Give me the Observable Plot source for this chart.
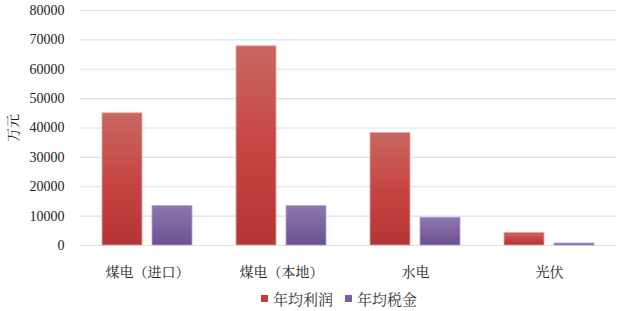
<!DOCTYPE html>
<html><head><meta charset="utf-8">
<script src="https://cdn.jsdelivr.net/npm/d3@7"></script>
<script src="https://cdn.jsdelivr.net/npm/@observablehq/plot@0.6"></script>
<style>
html,body{margin:0;padding:0;background:#fff;}
#chart{width:621px;height:311px;position:relative;overflow:hidden;}
#chart svg, #chart svg text{font-family:"Liberation Serif","Noto Serif CJK SC",serif !important;font-weight:normal !important;}
#legend{height:27px;display:flex;align-items:center;padding-left:261px;box-sizing:border-box;}
#legend .lg-swatches, #legend .lg-swatch{margin:0;font-family:"Liberation Serif","Noto Serif CJK SC",serif !important;}
#legend .lg-swatches-wrap{min-height:0 !important;justify-content:flex-start !important;}
#legend .lg-swatch{margin-right:12px !important;}
#legend .lg-swatch svg{margin-right:5px !important;}
</style></head><body><div id="chart"></div>
<script>
const categories = ["煤电（进口）", "煤电（本地）", "水电", "光伏"];
const series = ["年均利润", "年均税金"];
const profit = [45000, 67800, 38300, 4300];
const tax = [13400, 13400, 9450, 680];
const yTicks = [0, 10000, 20000, 30000, 40000, 50000, 60000, 70000, 80000];
const seriesColors = ["#c0403c", "#7b5ea3"];

const rows = categories.flatMap((c, i) => [
  {cat: c, series: series[0], value: profit[i]},
  {cat: c, series: series[1], value: tax[i]}
]);

const serif = "\"Liberation Serif\", \"Noto Serif CJK SC\", serif";

const chart = Plot.plot({
  width: 621, height: 285,
  marginLeft: 79, marginRight: 4, marginTop: 10, marginBottom: 40,
  style: {fontFamily: serif, fontSize: "13px", color: "#222", background: "#fff"},
  fx: {domain: categories, padding: 0, label: null, axis: null},
  x: {domain: series, paddingInner: 0.196, paddingOuter: 0.417, axis: null},
  y: {domain: [0, 80000], axis: null},
  marks: [
    Plot.gridY(yTicks, {stroke: "#d5e1f0", strokeOpacity: 1, strokeWidth: 1.2}),
    Plot.barY(rows.filter(d => d.series === series[0]), {fx: "cat", x: "series", y: "value", fill: "url(#gR)", stroke: "#e6a9a6", strokeWidth: 0.8}),
    Plot.barY(rows.filter(d => d.series === series[1]), {fx: "cat", x: "series", y: "value", fill: "url(#gP)", stroke: "#b2a2cb", strokeWidth: 0.8}),
    Plot.axisY(yTicks, {tickSize: 0, tickPadding: 16, tickFormat: d3.format("d"), label: "万元", labelAnchor: "center", labelArrow: "none", labelOffset: 72, fontSize: 14}),
    Plot.axisFx({anchor: "bottom", tickSize: 0, tickPadding: 22, fontSize: 14, label: null})
  ]
});

const defs = d3.select(chart).insert("defs", ":first-child");
const gR = defs.append("linearGradient").attr("id", "gR").attr("x1", 0).attr("y1", 0).attr("x2", 0).attr("y2", 1);
gR.append("stop").attr("offset", "0%").attr("stop-color", "#c86761");
gR.append("stop").attr("offset", "50%").attr("stop-color", "#c74644");
gR.append("stop").attr("offset", "100%").attr("stop-color", "#b33533");
const gP = defs.append("linearGradient").attr("id", "gP").attr("x1", 0).attr("y1", 0).attr("x2", 0).attr("y2", 1);
gP.append("stop").attr("offset", "0%").attr("stop-color", "#8e77ad");
gP.append("stop").attr("offset", "100%").attr("stop-color", "#6c5093");

const root = document.getElementById("chart");
root.appendChild(chart);

const legendDiv = document.createElement("div");
legendDiv.id = "legend";
const legend = Plot.legend({
  color: {domain: series, range: seriesColors},
  legend: "swatches",
  swatchSize: 7,
  className: "lg",
  style: {fontSize: "15px", fontFamily: serif, color: "#333"}
});
legendDiv.appendChild(legend);
root.appendChild(legendDiv);
</script></body></html>
